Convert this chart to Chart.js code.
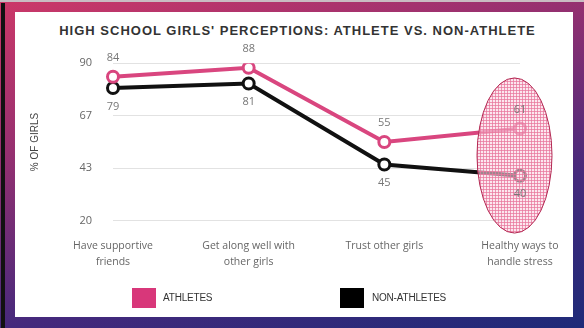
<!DOCTYPE html>
<html>
<head>
<meta charset="utf-8">
<script src="https://cdn.jsdelivr.net/npm/chart.js@4/dist/chart.umd.min.js"></script>
<style>
  html, body { margin: 0; padding: 0; }
  body {
    width: 584px; height: 328px; overflow: hidden; position: relative;
    background: linear-gradient(165deg, #cc3868 0%, #963070 32%, #45297c 68%, #1e2a78 100%);
  }
  #strip { position: absolute; left: 1px; top: 3px; width: 4px; height: 325px; background: #111; }
  #topline { position: absolute; left: 0; top: 0; width: 584px; height: 2px; background: #c9bcc2; }
  #panel { position: absolute; left: 15px; top: 12px; width: 558px; height: 305px; background: #fff; }
  #title {
    position: absolute; left: 15px; top: 22px; width: 565px; text-align: center;
    font: bold 13px "Liberation Sans", Arial, sans-serif; letter-spacing: 1px; color: #333;
    line-height: 18px;
  }
  #wrap { position: absolute; left: 0; top: 0; width: 584px; height: 328px; }
  .lg { position: absolute; font: 10px "Liberation Sans", Arial, sans-serif; color: #333; line-height: 20px; letter-spacing: -0.2px; }
  .box { position: absolute; width: 24px; height: 20px; }
</style>
</head>
<body>
<div id="topline"></div>
<div id="strip"></div>
<div id="panel"></div>
<div id="title">HIGH SCHOOL GIRLS' PERCEPTIONS: ATHLETE VS. NON-ATHLETE</div>
<div id="wrap"><canvas id="c" width="584" height="328"></canvas></div>
<div class="box" style="left:132px; top:288px; background:#d8377a;"></div>
<div class="lg" style="left:163px; top:288px;">ATHLETES</div>
<div class="box" style="left:340px; top:288px; background:#000;"></div>
<div class="lg" style="left:372px; top:288px;">NON-ATHLETES</div>
<script>
const categories = [
  ['Have supportive', 'friends'],
  ['Get along well with', 'other girls'],
  ['Trust other girls'],
  ['Healthy ways to', 'handle stress']
];
const athletes = [84, 88, 55, 61];
const nonAthletes = [79, 81, 45, 40];
const yTicks = [20, 43, 67, 90];
const highlightIndex = 3;

const PINK = '#d9467f';
const BLACK = '#111111';

// pattern for the highlight ellipse
const pc = document.createElement('canvas');
pc.width = 3; pc.height = 3;
const pctx = pc.getContext('2d');
pctx.fillStyle = 'rgba(250,215,228,0.6)';
pctx.fillRect(0, 0, 3, 3);
pctx.fillStyle = 'rgba(232,120,158,0.75)';
pctx.fillRect(0, 0, 3, 1);
pctx.fillRect(0, 0, 1, 3);

const highlightPlugin = {
  id: 'highlight',
  afterDatasetsDraw(chart) {
    const ctx = chart.ctx;
    const xs = chart.scales.x, ys = chart.scales.y;
    const cx = xs.getPixelForValue(highlightIndex) - 5.5;
    const yTop = ys.getPixelForValue(83.5);
    const yBot = ys.getPixelForValue(14.5);
    const cy = (yTop + yBot) / 2;
    const ry = (yBot - yTop) / 2;
    const rx = 37.5;
    ctx.save();
    ctx.beginPath();
    ctx.ellipse(cx, cy, rx, ry, 0, 0, Math.PI * 2);
    ctx.fillStyle = ctx.createPattern(pc, 'repeat');
    ctx.fill();
    ctx.lineWidth = 1;
    ctx.strokeStyle = '#b22852';
    ctx.stroke();
    ctx.restore();
  }
};

const labelPlugin = {
  id: 'valueLabels',
  afterDraw(chart) {
    const ctx = chart.ctx;
    ctx.save();
    ctx.font = '11px "Open Sans", "Liberation Sans", sans-serif';
    ctx.fillStyle = '#777';
    ctx.textAlign = 'center';
    ctx.textBaseline = 'middle';
    chart.data.datasets.forEach((ds, di) => {
      const meta = chart.getDatasetMeta(di);
      meta.data.forEach((pt, i) => {
        const dy = di === 0 ? -19 : 18.5;
        ctx.fillText(String(ds.data[i]), pt.x, pt.y + dy);
      });
    });
    ctx.restore();
  }
};

new Chart(document.getElementById('c'), {
  type: 'line',
  data: {
    labels: categories,
    datasets: [
      {
        label: 'ATHLETES', data: athletes,
        borderColor: PINK, borderWidth: 4, backgroundColor: '#fff',
        pointRadius: 5.5, pointBorderWidth: 3, pointBorderColor: PINK, pointBackgroundColor: '#fff',
        tension: 0
      },
      {
        label: 'NON-ATHLETES', data: nonAthletes,
        borderColor: BLACK, borderWidth: 4, backgroundColor: '#fff',
        pointRadius: 5.5, pointBorderWidth: 3, pointBorderColor: BLACK, pointBackgroundColor: '#fff',
        tension: 0
      }
    ]
  },
  options: {
    responsive: false,
    animation: false,
    layout: { padding: { left: 24, right: 64, top: 63.3, bottom: 40 } },
    plugins: {
      legend: { display: false },
      title: { display: false },
      tooltip: { enabled: false }
    },
    scales: {
      x: {
        offset: false,
        grid: { display: false, drawTicks: false },
        border: { display: false },
        ticks: {
          padding: 17,
          maxRotation: 0,
          autoSkip: false,
          color: '#666',
          font: { family: '"Open Sans", "Liberation Sans", sans-serif', size: 10.5, lineHeight: 1.55 }
        },
        afterFit(scale) { scale.height = 67.3; }
      },
      y: {
        min: 20, max: 90,
        afterBuildTicks(scale) { scale.ticks = yTicks.map(v => ({ value: v === 43 ? 20 + 70 / 3 : v === 67 ? 20 + 140 / 3 : v })); },
        grid: { color: '#e2e2e2', lineWidth: 1, drawTicks: false },
        border: { display: false },
        ticks: {
          padding: 21,
          color: '#666',
          font: { family: '"Open Sans", "Liberation Sans", sans-serif', size: 11 },
          callback: (v) => String(Math.round(v))
        },
        title: {
          display: true, text: '% OF GIRLS', color: '#444',
          font: { family: '"Liberation Sans", Arial, sans-serif', size: 10 },
          padding: { top: 5.5, bottom: 0 }
        },
        afterFit(scale) { scale.width = 89; }
      }
    }
  },
  plugins: [highlightPlugin, labelPlugin]
});
</script>
</body>
</html>
